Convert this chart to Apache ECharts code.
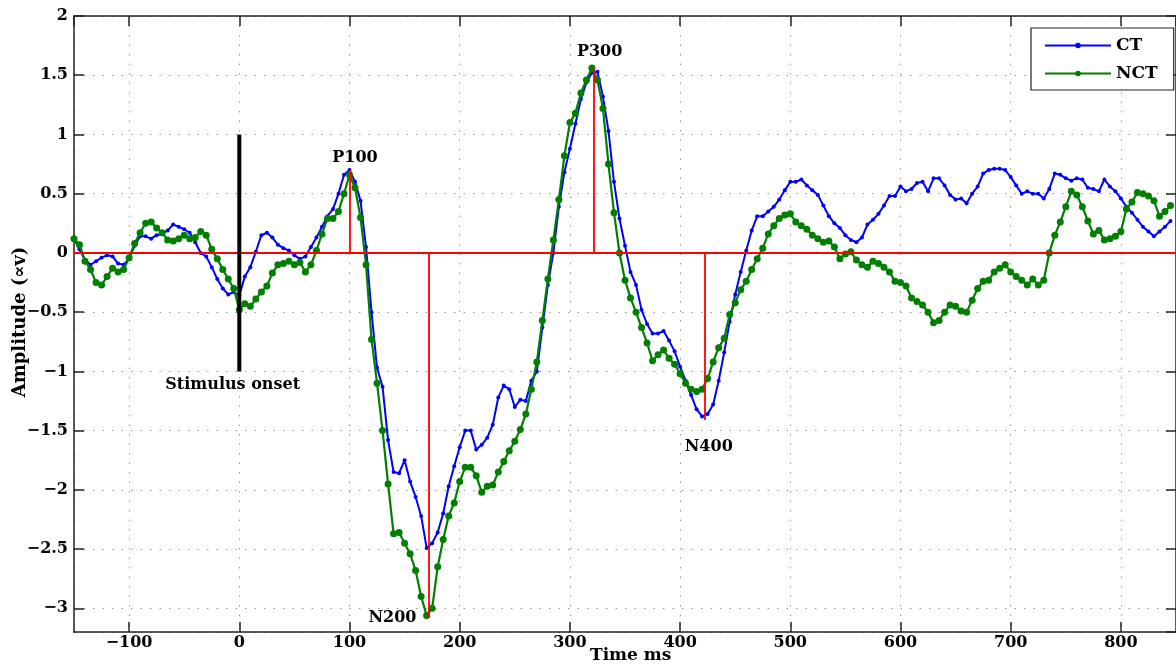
<!DOCTYPE html>
<html>
<head>
<meta charset="utf-8">
<script src="https://cdn.jsdelivr.net/npm/echarts@6/dist/echarts.min.js"></script>
<style>
html,body{margin:0;padding:0;background:#fff}
#chart{width:1176px;height:666px}
</style>
</head>
<body>
<div id="chart"></div>
<script>
// ERP averages, one sample every 5 ms starting at -150 ms
var startMs = -150, stepMs = 5;

var ctValues = [
  0.12, 0.03, -0.06, -0.10, -0.07, -0.04, -0.02, -0.03, -0.09, -0.10,
  -0.05, 0.06, 0.14, 0.14, 0.12, 0.15, 0.16, 0.19, 0.24, 0.22,
  0.20, 0.17, 0.09, 0.00, -0.03, -0.12, -0.22, -0.30, -0.35, -0.33,
  -0.36, -0.20, -0.12, 0.01, 0.15, 0.17, 0.13, 0.07, 0.04, 0.02,
  -0.02, -0.05, -0.03, 0.05, 0.13, 0.22, 0.31, 0.37, 0.50, 0.66,
  0.70, 0.60, 0.44, 0.05, -0.50, -0.97, -1.13, -1.58, -1.85, -1.86,
  -1.75, -1.93, -2.06, -2.22, -2.49, -2.45, -2.36, -2.20, -1.97, -1.80,
  -1.64, -1.50, -1.50, -1.66, -1.62, -1.56, -1.45, -1.22, -1.12, -1.15,
  -1.30, -1.24, -1.25, -1.08, -1.00, -0.63, -0.27, 0.00, 0.39, 0.68,
  0.88, 1.09, 1.30, 1.44, 1.52, 1.53, 1.32, 1.03, 0.60, 0.29,
  0.06, -0.16, -0.27, -0.48, -0.60, -0.68, -0.68, -0.66, -0.74, -0.83,
  -0.96, -1.08, -1.20, -1.32, -1.38, -1.36, -1.28, -1.08, -0.84, -0.58,
  -0.35, -0.16, 0.02, 0.19, 0.31, 0.31, 0.35, 0.39, 0.45, 0.53,
  0.60, 0.60, 0.62, 0.57, 0.53, 0.49, 0.40, 0.31, 0.25, 0.21,
  0.15, 0.11, 0.09, 0.13, 0.24, 0.28, 0.33, 0.40, 0.48, 0.48,
  0.56, 0.52, 0.54, 0.59, 0.60, 0.52, 0.63, 0.63, 0.57, 0.49,
  0.45, 0.46, 0.42, 0.50, 0.56, 0.67, 0.70, 0.71, 0.71, 0.70,
  0.64, 0.57, 0.50, 0.52, 0.50, 0.50, 0.46, 0.54, 0.67, 0.66,
  0.63, 0.61, 0.63, 0.62, 0.55, 0.54, 0.52, 0.62, 0.56, 0.52,
  0.46, 0.39, 0.34, 0.28, 0.22, 0.18, 0.14, 0.18, 0.22, 0.27
];

var nctValues = [
  0.12, 0.07, -0.07, -0.14, -0.25, -0.27, -0.20, -0.13, -0.16, -0.14,
  -0.04, 0.08, 0.17, 0.25, 0.26, 0.21, 0.17, 0.11, 0.10, 0.12,
  0.15, 0.12, 0.13, 0.18, 0.15, 0.03, -0.05, -0.14, -0.22, -0.30,
  -0.48, -0.43, -0.45, -0.39, -0.33, -0.28, -0.17, -0.10, -0.09, -0.07,
  -0.10, -0.08, -0.16, -0.10, 0.02, 0.16, 0.29, 0.29, 0.35, 0.50,
  0.66, 0.55, 0.30, -0.10, -0.73, -1.10, -1.50, -1.95, -2.37, -2.36,
  -2.45, -2.54, -2.68, -2.90, -3.06, -3.00, -2.65, -2.42, -2.22, -2.11,
  -1.93, -1.81, -1.81, -1.88, -2.02, -1.97, -1.96, -1.85, -1.76, -1.67,
  -1.59, -1.49, -1.36, -1.15, -0.92, -0.57, -0.22, 0.11, 0.45, 0.82,
  1.10, 1.18, 1.35, 1.46, 1.56, 1.46, 1.22, 0.75, 0.34, 0.00,
  -0.23, -0.38, -0.50, -0.63, -0.76, -0.91, -0.86, -0.82, -0.89, -0.94,
  -1.02, -1.10, -1.15, -1.17, -1.15, -1.06, -0.92, -0.80, -0.72, -0.52,
  -0.42, -0.31, -0.24, -0.14, -0.05, 0.04, 0.16, 0.23, 0.29, 0.32,
  0.33, 0.26, 0.23, 0.20, 0.15, 0.12, 0.09, 0.10, 0.05, -0.05,
  -0.01, 0.01, -0.06, -0.10, -0.12, -0.07, -0.09, -0.12, -0.16, -0.24,
  -0.25, -0.28, -0.38, -0.41, -0.44, -0.50, -0.59, -0.57, -0.50, -0.44,
  -0.45, -0.49, -0.50, -0.40, -0.30, -0.24, -0.23, -0.16, -0.13, -0.10,
  -0.16, -0.20, -0.23, -0.27, -0.22, -0.27, -0.23, 0.00, 0.15, 0.26,
  0.39, 0.52, 0.49, 0.39, 0.27, 0.16, 0.19, 0.11, 0.12, 0.14,
  0.18, 0.37, 0.43, 0.51, 0.50, 0.48, 0.44, 0.31, 0.35, 0.40
];

// peak markers (red stems) and their labels
var peakNames = ['P100', 'N200', 'P300', 'N400'];
var peakTimes = [100, 172, 322, 422];
var peakAmps = [0.70, -3.08, 1.57, -1.41];
var peakLabelX = [105, 139, 327, 426];
var peakLabelY = [0.80, -3.08, 1.70, -1.64];

// stimulus onset bar
var onsetTime = 0;
var onsetSpan = [-1, 1];
var onsetLabel = ['Stimulus onset', -6, -1.11];

var xRange = [-150, 850];
var yRange = [-3.2, 2];

var FONT = 'DejaVu Serif';

function toPairs(vals) {
  var out = [];
  for (var i = 0; i < vals.length; i++) {
    out.push([startMs + i * stepMs, vals[i]]);
  }
  return out;
}

function fmtTick(v) {
  var s = String(Math.round(v * 10) / 10);
  return s.replace('-', '\u2212');
}

var stemLines = [[{coord: [xRange[0], 0]}, {coord: [xRange[1], 0]}]];
for (var i = 0; i < peakTimes.length; i++) {
  stemLines.push([{coord: [peakTimes[i], 0]}, {coord: [peakTimes[i], peakAmps[i]]}]);
}

var labelData = [];
for (var j = 0; j < peakNames.length; j++) {
  labelData.push({value: [peakLabelX[j], peakLabelY[j]], name: peakNames[j]});
}
labelData.push({value: [onsetLabel[1], onsetLabel[2]], name: onsetLabel[0]});

var gridDots = {show: true, lineStyle: {color: '#999', width: 1, type: [1.5, 8]}};
var axisBlack = {show: true, onZero: false, lineStyle: {color: '#222', width: 1.5}};
var tickIn = {show: true, inside: true, length: 10, lineStyle: {color: '#222', width: 1.5}};

var myChart = echarts.init(document.getElementById('chart'));
var option = {
  animation: false,
  backgroundColor: '#fff',
  grid: {left: 74, top: 16, right: -8, bottom: 34, containLabel: false},
  legend: {
    data: ['CT', 'NCT'],
    orient: 'vertical',
    left: 1031,
    top: 28,
    padding: [9, 16, 8, 13],
    itemWidth: 66,
    itemHeight: 7,
    itemGap: 11,
    backgroundColor: '#fff',
    borderColor: '#222',
    borderWidth: 1.2,
    borderRadius: 0,
    textStyle: {fontFamily: FONT, fontWeight: 'bold', fontSize: 17, color: '#000'}
  },
  xAxis: [
    {
      type: 'value', min: xRange[0], max: xRange[1],
      splitNumber: 10, minInterval: 100, maxInterval: 100,
      axisLine: axisBlack,
      axisTick: tickIn,
      axisLabel: {
        showMinLabel: false, showMaxLabel: false, margin: 3,
        fontFamily: FONT, fontWeight: 'bold', fontSize: 16, color: '#000',
        formatter: fmtTick
      },
      splitLine: gridDots
    },
    {
      type: 'value', position: 'top', min: xRange[0], max: xRange[1],
      splitNumber: 10, minInterval: 100, maxInterval: 100,
      axisLine: axisBlack,
      axisTick: tickIn,
      axisLabel: {show: false},
      splitLine: {show: false}
    }
  ],
  yAxis: [
    {
      type: 'value', min: yRange[0], max: yRange[1],
      splitNumber: 10, minInterval: 0.5, maxInterval: 0.5,
      axisLine: axisBlack,
      axisTick: tickIn,
      axisLabel: {
        showMinLabel: false, margin: 6,
        fontFamily: FONT, fontWeight: 'bold', fontSize: 16, color: '#000',
        formatter: fmtTick
      },
      splitLine: gridDots
    },
    {
      type: 'value', position: 'right', min: yRange[0], max: yRange[1],
      splitNumber: 10, minInterval: 0.5, maxInterval: 0.5,
      axisLine: axisBlack,
      axisTick: tickIn,
      axisLabel: {show: false},
      splitLine: {show: false}
    }
  ],
  graphic: [
    {
      type: 'text', left: 630 - 40, top: 647,
      style: {text: 'Time ms', fontFamily: FONT, fontWeight: 'bold', fontSize: 17, fill: '#000'}
    },
    {
      type: 'text', x: 20, y: 322, rotation: Math.PI / 2,
      style: {
        text: 'Amplitude (\u221Dv)', fontFamily: FONT, fontWeight: 'bold', fontSize: 18,
        fill: '#000', align: 'center', verticalAlign: 'middle'
      }
    }
  ],
  series: [
    {
      name: 'CT', type: 'line', data: toPairs(ctValues), z: 2,
      color: '#0000ff',
      lineStyle: {width: 2, color: '#0000ff'},
      symbol: 'circle', symbolSize: 4, showSymbol: true,
      itemStyle: {color: '#0000ff'}
    },
    {
      name: 'NCT', type: 'line', data: toPairs(nctValues), z: 3,
      color: '#007f00',
      lineStyle: {width: 2.2, color: '#007f00'},
      symbol: 'circle', symbolSize: 7, showSymbol: true,
      itemStyle: {color: '#007f00'}
    },
    {
      name: 'stems', type: 'line', data: [], z: 4, silent: true,
      markLine: {
        silent: true, symbol: 'none', animation: false,
        label: {show: false},
        lineStyle: {color: '#ff0000', width: 1.8, type: 'solid'},
        data: stemLines
      }
    },
    {
      name: 'onset', type: 'line', z: 5, silent: true,
      data: [[onsetTime, onsetSpan[0]], [onsetTime, onsetSpan[1]]],
      showSymbol: false, symbol: 'none',
      lineStyle: {color: '#000', width: 4}
    },
    {
      name: 'labels', type: 'scatter', z: 6, silent: true,
      data: labelData, symbolSize: 0,
      itemStyle: {opacity: 1, color: 'rgba(0,0,0,0)'},
      label: {
        show: true, position: 'inside', formatter: '{b}', opacity: 1,
        fontFamily: FONT, fontWeight: 'bold', fontSize: 16, color: '#000'
      }
    }
  ]
};
myChart.setOption(option);
</script>
</body>
</html>
